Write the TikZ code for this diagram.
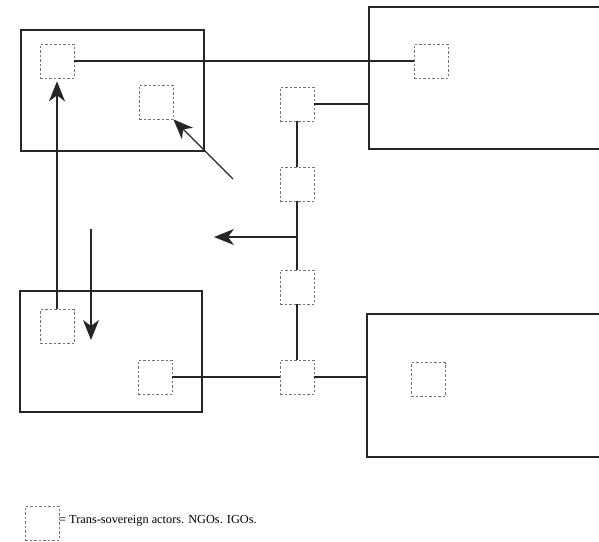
\documentclass[tikz,border=0pt]{standalone}
\usepackage{fontspec}
\setmainfont{Liberation Serif}
\usetikzlibrary{arrows.meta}
\begin{document}
\begin{tikzpicture}[x=1pt,y=-1pt,
  statebox/.style={draw=black!85,line width=1.4pt},
  actor/.style={draw=black!55,dashed,dash pattern=on 2.5pt off 2pt,line width=0.7pt,minimum width=34pt,minimum height=34pt,inner sep=0pt,fill=white},
  link/.style={draw=black!85,line width=1.4pt},
  flow/.style={link,-{Stealth[length=20pt,width=16pt,inset=6pt]}}]
\useasboundingbox (0,0) rectangle (599,541);
% state boxes
\draw[statebox] (21,30) rectangle (204,151);
\draw[statebox] (369,7) rectangle (615,149);
\draw[statebox] (20,291) rectangle (202,412);
\draw[statebox] (367,314) rectangle (615,457);
% actors
\node[actor] (A) at (57,61) {};
\node[actor] (B) at (156,102) {};
\node[actor] (C) at (431,61) {};
\node[actor] (D) at (297,104) {};
\node[actor] (E) at (297,184) {};
\node[actor] (G) at (297,287) {};
\node[actor] (H) at (297,377) {};
\node[actor] (F) at (57,326.5) {};
\node[actor] (I) at (155,377) {};
\node[actor] (J) at (428,379.5) {};
% connectors
\coordinate (TRleft) at (369,104);
\coordinate (BRleft) at (367,377);
\coordinate (junc) at (297,237);
\coordinate (leftTip) at (214,237);
\coordinate (diagStart) at (233,179);
\coordinate (downStart) at (91,229);
\coordinate (downTip) at (91,340);
\draw[link] (A.east) -- (C.west);
\draw[link] (D.east) -- (TRleft);
\draw[link] (D.south) -- (E.north);
\draw[link] (E.south) -- (G.north);
\draw[link] (G.south) -- (H.north);
\draw[link] (I.east) -- (H.west);
\draw[link] (H.east) -- (BRleft);
\draw[flow] (junc) -- (leftTip);
\draw[flow] (diagStart) -- (B.south east);
\draw[flow] (F.north) -- ([yshift=-3pt]A.south);
\draw[flow] (downStart) -- (downTip);
% legend
\node[actor] (L) at (42,523) {};
\node[anchor=west,inner sep=0pt,font=\fontsize{12.3}{13}\selectfont] (Ltext) at (59,521) {= Trans-sovereign actors. NGOs. IGOs.};
\end{tikzpicture}
\end{document}
